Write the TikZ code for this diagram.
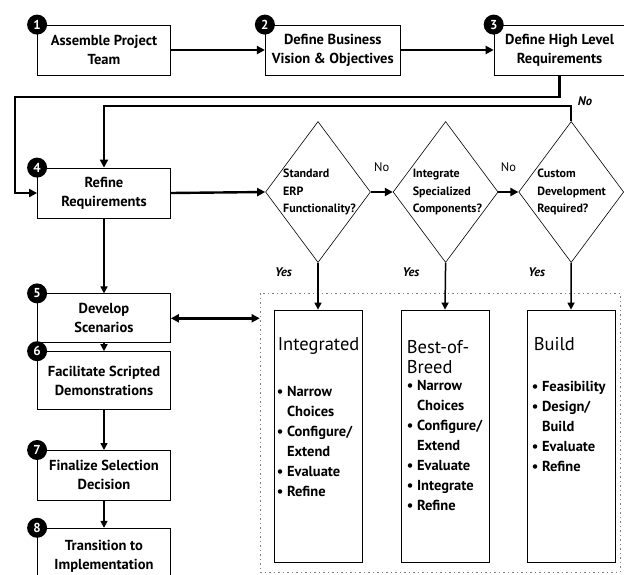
\documentclass[tikz,border=0pt]{standalone}
\usepackage{fontspec}
\setmainfont{PT Sans}
\usetikzlibrary{positioning, shapes.geometric, arrows.meta}

\newcommand{\optbullet}{\textbullet\ }
\newcommand{\optindent}{\hphantom{\textbullet\ }}

\tikzset{
  stepbox/.style={draw, line width=0.8pt, minimum width=133pt, minimum height=50pt,
    align=center, inner sep=2pt, font=\bfseries\fontsize{14.5}{19}\selectfont},
  num/.style={circle, fill=black, text=white, inner sep=0pt, minimum size=20pt,
    anchor=center, font=\bfseries\fontsize{13}{13}\selectfont},
  decision/.style={draw, diamond, line width=0.6pt, minimum width=105pt,
    minimum height=141pt, inner sep=0pt},
  question/.style={anchor=west, align=left, inner sep=0pt,
    font=\bfseries\fontsize{12}{17.5}\selectfont},
  group/.style={draw=gray, dash pattern=on 1.5pt off 3pt, line width=0.6pt,
    minimum width=360pt, minimum height=279pt},
  option/.style={draw, line width=0.8pt, minimum width=88pt, minimum height=252pt},
  optiontitle/.style={anchor=north west, align=left, inner sep=0pt,
    font=\fontsize{18.5}{20}\selectfont},
  optionlist/.style={anchor=north west, align=left, inner sep=0pt,
    font=\bfseries\fontsize{14.5}{20}\selectfont},
  flow/.style={line width=2.4pt, -{Triangle[length=8pt, width=8pt]}},
  thinflow/.style={line width=1.5pt, -{Triangle[length=7pt, width=7pt]}},
  bothflow/.style={line width=2.4pt,
    {Triangle[length=8pt, width=8pt]}-{Triangle[length=8pt, width=8pt]}},
  yes/.style={font=\bfseries\itshape\fontsize{12.5}{12.5}\selectfont},
  no/.style={font=\fontsize{12.5}{12.5}\selectfont},
}

\begin{document}
\begin{tikzpicture}[x=1pt, y=1pt]
  \useasboundingbox (0,0) rectangle (624,-574);

  % selection steps
  \node[stepbox, label={[num]north west:1}] (assemble) at (104,-50) {Assemble Project\\Team};
  \node[stepbox, minimum width=135pt, right=94pt of assemble,
        label={[num]north west:2}] (vision) {Define Business\\Vision \& Objectives};
  \node[stepbox, minimum width=131pt, right=93pt of vision,
        label={[num]north west:3}] (highlevel) {Define High Level\\Requirements};
  \node[stepbox, label={[num]north west:4}] (refine) at (104,-193) {Refine\\Requirements};
  \node[stepbox, minimum height=49pt, below=75pt of refine,
        label={[num]north west:5}] (scenarios) {Develop\\Scenarios};
  \node[stepbox, minimum height=58pt, below=8pt of scenarios,
        label={[num]north west:6}] (demos) {Facilitate Scripted\\Demonstrations};
  \node[stepbox, below=40pt of demos,
        label={[num]north west:7}] (finalize) {Finalize Selection\\Decision};
  \node[stepbox, minimum height=56pt, below=27pt of finalize,
        label={[num]north west:8}] (transition) {Transition to\\Implementation};

  % decisions
  \node[decision] (standard) at (318,-192) {};
  \node[decision, right=22pt of standard] (special) {};
  \node[decision, right=20pt of special] (custom) {};
  \node[question] (standardtext) at ([xshift=-35pt]standard.center) {Standard\\ERP\\Functionality?};
  \node[question] (specialtext) at ([xshift=-33pt]special.center) {Integrate\\Specialized\\Components?};
  \node[question] (customtext) at ([xshift=-34pt]custom.center) {Custom\\Development\\Required?};

  % approaches
  \node[group] (approach) at (440,-432.5) {};
  \node[option] (integrated) at (318,-436) {};
  \node[option] (bestofbreed) at (445,-436) {};
  \node[option] (build) at (571,-436) {};

  \node[optiontitle] (integratedtitle) at ([shift={(4pt,-28pt)}]integrated.north west) {Integrated};
  \node[optionlist] (integratedlist) at ([shift={(3pt,-76pt)}]integrated.north west)
    {\optbullet Narrow\\\optindent Choices\\\optbullet Configure/\\\optindent Extend\\\optbullet Evaluate\\\optbullet Refine};
  \node[optiontitle] (bestofbreedtitle) at ([shift={(6pt,-31pt)}]bestofbreed.north west) {Best-of-\\Breed};
  \node[optionlist] (bestofbreedlist) at ([shift={(6pt,-70pt)}]bestofbreed.north west)
    {\optbullet Narrow\\\optindent Choices\\\optbullet Configure/\\\optindent Extend\\\optbullet Evaluate\\\optbullet Integrate\\\optbullet Refine};
  \node[optiontitle] (buildtitle) at ([shift={(7pt,-28pt)}]build.north west) {Build};
  \node[optionlist] (buildlist) at ([shift={(5pt,-71pt)}]build.north west)
    {\optbullet Feasibility\\\optbullet Design/\\\optindent Build\\\optbullet Evaluate\\\optbullet Refine};

  % connectors
  \draw[flow] (assemble) -- (vision);
  \draw[flow] (vision) -- (highlevel);
  \coordinate (backleft) at (15,-97);
  \draw[flow] (highlevel.south) |- (backleft) |- (refine.west);
  \draw[flow] (custom.north) -- ++(0,15) -| (refine.north);
  \node[yes] (nocustom) at (585,-101) {No};
  \draw[flow] (refine.east) -- (standard.west);
  \draw[flow] (standard.east) -- node[no, above=16pt] (nostandard) {No} (special.west);
  \draw[flow] (special.east) -- node[no, above=16pt] (nospecial) {No} (custom.west);
  \draw[thinflow] (standard.south) -- node[yes, pos=0.2, left=22pt] (yesstandard) {Yes} (integrated.north);
  \draw[thinflow] (special.south) -- node[yes, pos=0.2, left=22pt] (yesspecial) {Yes} (bestofbreed.north);
  \draw[thinflow] (custom.south) -- node[yes, pos=0.2, left=22pt] (yescustom) {Yes} (build.north);

  \draw[thinflow] (refine) -- (scenarios);
  \draw[thinflow] (scenarios) -- (demos);
  \draw[thinflow] (demos) -- (finalize);
  \draw[thinflow] (finalize) -- (transition);
  \draw[bothflow] (scenarios.east) -- (scenarios.east -| approach.west);
\end{tikzpicture}
\end{document}
